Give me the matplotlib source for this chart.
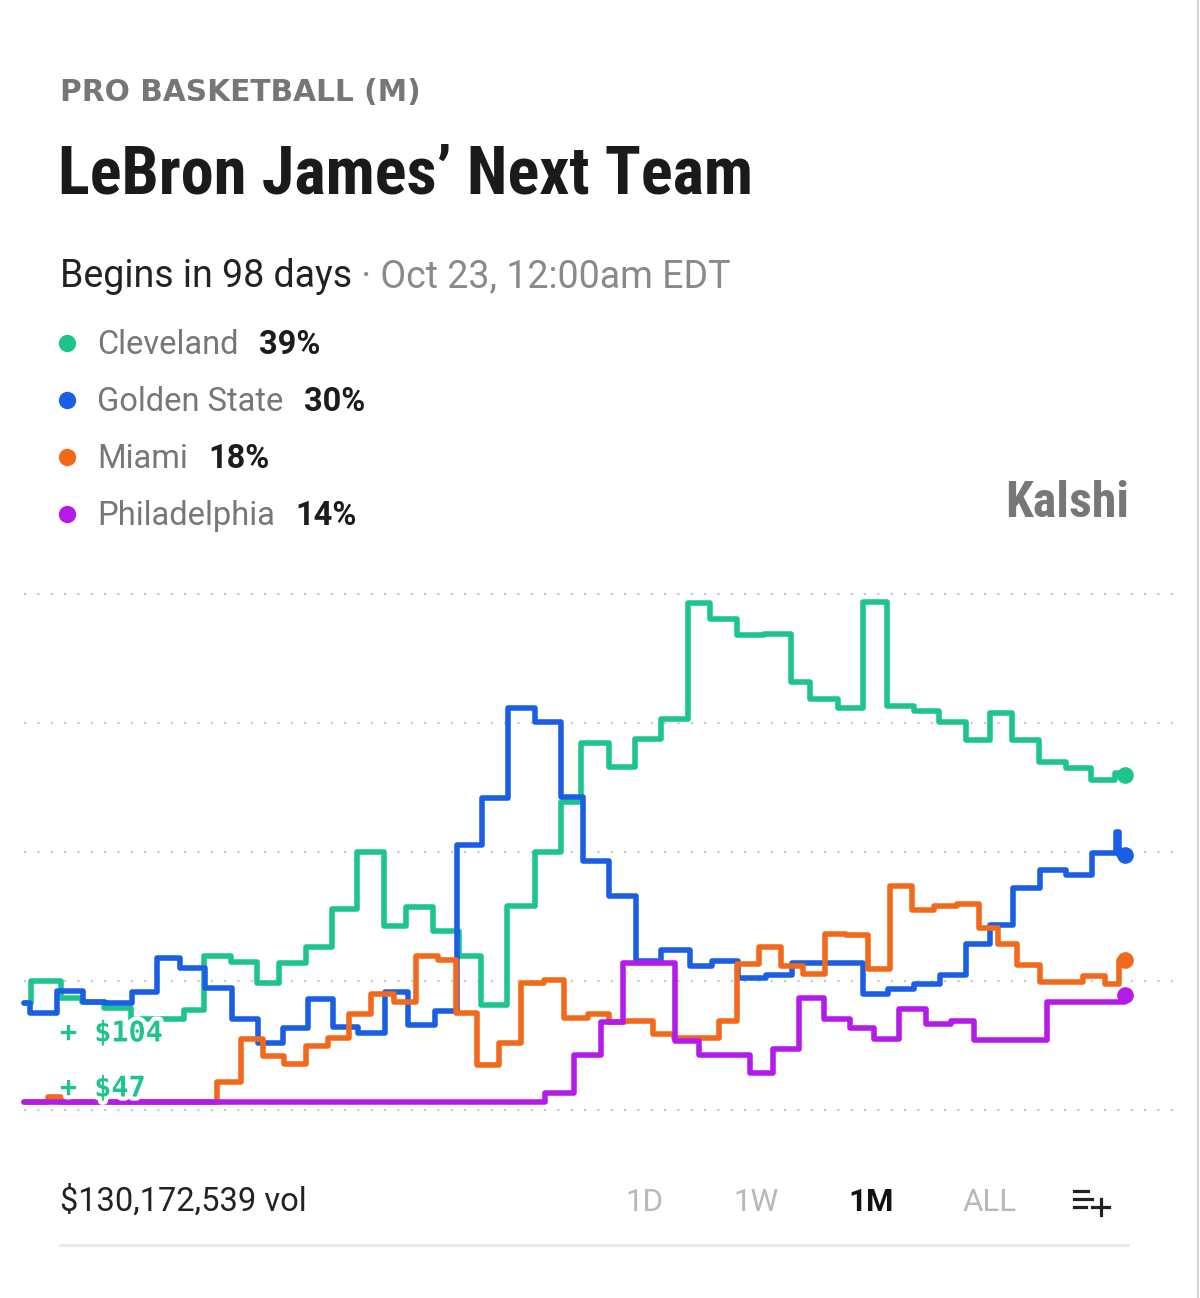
import matplotlib
matplotlib.use('Agg')
import matplotlib.pyplot as plt
from matplotlib import font_manager
from matplotlib.font_manager import FontProperties
from matplotlib.lines import Line2D
import matplotlib.patheffects as pe

W, H, DPI = 1200, 1298, 100

# ---------------- data ----------------
teams = ['Cleveland', 'Golden State', 'Miami', 'Philadelphia']
current_pct = ['39%', '30%', '18%', '14%']
team_colors = ['#1DC48D', '#1A5FE3', '#F2691C', '#B41BE8']

cle_days = [0.0, 0.19, 1.01, 1.58, 2.18, 2.92, 4.36, 4.90, 5.64, 6.35, 6.95, 7.68, 8.39, 9.07,
            9.81, 10.41, 11.14, 11.85, 12.45, 13.16, 13.92, 14.63, 15.18, 15.94, 16.65, 17.36,
            18.09, 18.69, 19.43, 20.16, 20.90, 21.42, 22.18, 22.86, 23.51, 24.25, 24.93, 25.67,
            26.32, 26.92, 27.66, 28.39, 29.07, 29.73]
cle_pct = [12.4, 15.0, 13.0, 12.6, 11.9, 10.6, 11.6, 17.9, 17.2, 14.8, 17.1, 19.0, 23.4, 30.0,
           21.4, 23.6, 20.8, 17.9, 12.2, 23.7, 30.0, 35.8, 42.7, 39.9, 43.1, 45.5,
           58.9, 57.1, 55.2, 55.3, 49.8, 47.8, 46.8, 59.1, 47.0, 46.4, 45.1, 43.0,
           46.2, 43.0, 40.5, 39.8, 38.4, 39.2]

gsw_days = [0.0, 0.16, 0.90, 1.61, 2.21, 2.94, 3.62, 4.25, 4.93, 5.67, 6.38, 7.06, 7.74, 8.42,
            9.10, 9.84, 10.46, 11.20, 11.80, 12.48, 13.19, 13.92, 14.63, 15.23, 15.94, 16.68,
            17.36, 18.15, 18.75, 19.46, 20.22, 20.93, 22.86, 23.54, 24.25, 24.96, 25.67, 26.32,
            26.95, 27.68, 28.39, 29.10, 29.75, 29.84]
gsw_pct = [12.4, 11.3, 13.8, 12.6, 12.4, 13.7, 17.7, 16.5, 14.2, 10.6, 7.8, 9.5, 12.9, 9.7,
           8.9, 13.7, 9.9, 11.5, 30.8, 36.3, 46.7, 45.1, 36.4, 29.0, 24.9, 17.3,
           18.6, 16.7, 17.3, 15.3, 15.7, 17.1, 13.5, 14.1, 14.7, 15.7, 19.3, 21.5,
           25.8, 27.9, 27.3, 29.9, 32.3, 29.7]

mia_days = [0.0, 0.65, 1.01, 5.26, 5.91, 6.51, 7.08, 7.68, 8.28, 8.86, 9.46, 10.08, 10.68, 11.28,
            11.77, 12.34, 12.94, 13.54, 14.17, 14.71, 15.37, 15.94, 16.38, 17.14, 17.71, 18.94,
            19.43, 20.03, 20.63, 21.23, 21.83, 22.40, 23.00, 23.60, 24.20, 24.80, 25.42, 26.02,
            26.54, 27.06, 27.68, 28.86, 29.46, 29.84]
mia_pct = [0.9, 1.5, 0.9, 3.3, 8.2, 6.3, 5.3, 7.4, 8.4, 11.2, 13.5, 12.6, 17.9, 17.5,
           11.3, 5.2, 7.8, 14.8, 15.1, 10.7, 11.2, 10.2, 10.4, 8.8, 8.4, 10.4,
           17.0, 19.0, 16.7, 15.8, 20.5, 20.3, 16.4, 26.0, 23.3, 23.7, 24.0, 21.2,
           19.3, 16.9, 14.9, 15.6, 14.7, 17.5]

phi_days = [0.0, 14.20, 14.99, 15.72, 16.32, 17.74, 18.39, 19.78, 20.41, 21.12, 21.80, 22.51,
            23.16, 23.84, 24.58, 25.26, 25.89, 27.87]
phi_pct = [0.9, 2.0, 6.4, 10.2, 17.1, 8.0, 6.4, 4.3, 7.1, 13.0, 10.6, 9.5,
           8.2, 11.7, 10.0, 10.3, 8.1, 12.6]

end_day = 30.0
end_pct = [38.9, 29.7, 17.5, 13.4]
grid_levels = [0, 15, 30, 45, 60]

trade_labels = ['+ $104', '+ $47']
trade_label_pos = [(0.98, 8.9), (0.98, 2.5)]

title_kicker = 'PRO BASKETBALL (M)'
title_text = 'LeBron James\u2019 Next Team'
begins_text = 'Begins in 98 days'
date_text = ' \u00b7 Oct 23, 12:00am EDT'
volume_text = '$130,172,539 vol'
ranges = ['1D', '1W', '1M', 'ALL']
active_range = '1M'

# ---------------- fonts ----------------
def find_narrow(bold):
    prefs = ['roboto', 'noto', 'open', 'liberation', 'dejavu', 'lato', 'inter']
    found = []
    for f in font_manager.fontManager.ttflist:
        fn = f.fname.lower().replace('\\', '/').split('/')[-1]
        nm = f.name.lower() + ' ' + fn
        if not ('condensed' in nm or 'narrow' in nm):
            continue
        if 'italic' in nm or 'oblique' in nm or 'semicondensed' in fn or 'extracondensed' in fn:
            continue
        if 'cjk' in nm or 'mono' in nm:
            continue
        isbold = ('bold' in fn) and not any(k in fn for k in ['semibold', 'extrabold'])
        isreg = not any(k in fn for k in ['bold', 'light', 'thin', 'medium', 'black', 'semi', 'extra'])
        if (bold and isbold) or ((not bold) and isreg):
            rank = len(prefs)
            for i, p in enumerate(prefs):
                if p in nm:
                    rank = i
                    break
            found.append((rank, f.fname))
    if found:
        found.sort()
        return FontProperties(fname=found[0][1])
    return None

narrow_bold = find_narrow(True)

def fp(family='Roboto', weight='normal', size=20):
    return FontProperties(family=[family, 'DejaVu Sans'], weight=weight, size=size)

fig = plt.figure(figsize=(W / DPI, H / DPI), dpi=DPI)
fig.patch.set_facecolor('white')

def fx(x):
    return x / W

def fy(y):
    return 1 - y / H

# ---------------- header ----------------
fig.text(fx(60), fy(101), title_kicker, fontproperties=fp('DejaVu Sans', 'bold', 21.3),
         color='#767676', va='baseline', ha='left')

if narrow_bold is not None:
    tprop = narrow_bold.copy()
    tprop.set_size(47.8)
else:
    tprop = fp('Roboto', 'bold', 43)
fig.text(fx(58), fy(194), title_text, fontproperties=tprop, color='#1a1a1a',
         va='baseline', ha='left')

t1 = fig.text(fx(60), fy(287), begins_text, fontproperties=fp('Roboto', 'normal', 27),
              color='#222222', va='baseline', ha='left')
fig.canvas.draw()
r = fig.canvas.get_renderer()
bb = t1.get_window_extent(r)
fig.text(bb.x1 / W, fy(287), date_text, fontproperties=fp('Roboto', 'normal', 27),
         color='#8a8a8a', va='baseline', ha='left')

# legend
rows_y = [343, 400, 457, 514]
for name, pct, col, yy in zip(teams, current_pct, team_colors, rows_y):
    fig.add_artist(Line2D([fx(67)], [fy(yy)], marker='o', markersize=12.5, color=col,
                          markeredgewidth=0, transform=fig.transFigure))
    tn = fig.text(fx(97), fy(yy + 11), name, fontproperties=fp('Roboto', 'normal', 23.5),
                  color='#777777', va='baseline', ha='left')
    bbn = tn.get_window_extent(r)
    fig.text((bbn.x1 + 21) / W, fy(yy + 11), pct, fontproperties=fp('Roboto', 'bold', 23.5),
             color='#1c1c1c', va='baseline', ha='left')

fig.text(fx(1129), fy(517), 'Kalshi', fontproperties=(narrow_bold.copy() if narrow_bold else fp('Roboto', 'bold', 30)),
         color='#777777', va='baseline', ha='right', fontsize=36)

# ---------------- chart ----------------
px_per_day = 36.7
ax = fig.add_axes([fx(24), fy(1120), 1151 / W, 535 / H])
ax.set_xlim(0, 1151 / px_per_day)
ax.set_ylim(-10 / 8.6, 525 / 8.6)
ax.axis('off')

for g in grid_levels:
    ax.axhline(g, color='#c9c9c9', lw=1.6, linestyle=(0, (1, 5)), zorder=0)

series = [(cle_days, cle_pct), (gsw_days, gsw_pct), (mia_days, mia_pct), (phi_days, phi_pct)]
for i, ((d, p), col, ep) in enumerate(zip(series, team_colors, end_pct)):
    dd = list(d) + [end_day]
    pp = list(p) + [p[-1]]
    ax.plot(dd, pp, drawstyle='steps-post', color=col, lw=4.0, zorder=2 + i,
            solid_joinstyle='round', solid_capstyle='round', clip_on=False)
    ax.plot([end_day], [ep], 'o', color=col, markersize=12, markeredgewidth=0,
            zorder=10 + i, clip_on=False)

for lab, (dx, dy) in zip(trade_labels, trade_label_pos):
    ax.text(dx, dy, lab, color='#1DC48D', fontsize=20.5, fontweight='bold',
            family=['DejaVu Sans Mono'], va='center', ha='left', zorder=20,
            path_effects=[pe.withStroke(linewidth=6, foreground='white')])

# ---------------- footer ----------------
fig.text(fx(60), fy(1211), volume_text, fontproperties=fp('Roboto', 'normal', 23.5),
         color='#222222', va='baseline', ha='left')
range_x = [644, 756, 871, 990]
for lab, xx in zip(ranges, range_x):
    act = lab == active_range
    fig.text(fx(xx), fy(1211), lab, fontproperties=fp('Roboto', 'bold' if act else 'normal', 22.5),
             color='#111111' if act else '#b8b8b8', va='baseline', ha='center')

# icon (list with plus)
for (x0, x1, yy) in [(1074, 1088, 1191), (1074, 1092, 1199), (1074, 1086, 1207)]:
    fig.add_artist(Line2D([fx(x0), fx(x1)], [fy(yy), fy(yy)], color='#222222', lw=2.3,
                          transform=fig.transFigure))
fig.add_artist(Line2D([fx(1092), fx(1109)], [fy(1207), fy(1207)], color='#222222', lw=2.3,
                      transform=fig.transFigure))
fig.add_artist(Line2D([fx(1100.5), fx(1100.5)], [fy(1199), fy(1215)], color='#222222', lw=2.3,
                      transform=fig.transFigure))

fig.add_artist(Line2D([fx(60), fx(1128)], [fy(1245), fy(1245)], color='#e8e8e8', lw=2,
                      transform=fig.transFigure))
fig.add_artist(Line2D([fx(1198), fx(1198)], [0, 1], color='#d4d4d4', lw=1.5,
                      transform=fig.transFigure))

fig.savefig('out.png', dpi=DPI, facecolor='white')
